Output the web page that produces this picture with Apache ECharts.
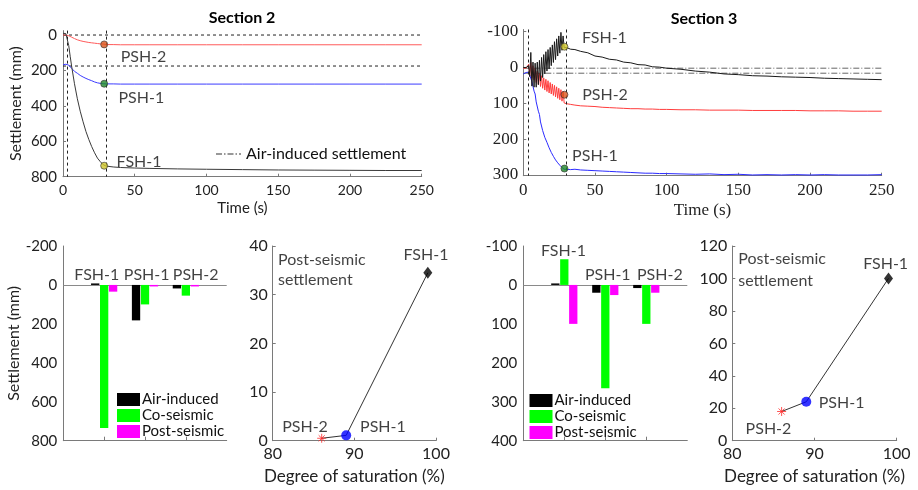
<!DOCTYPE html>
<html><head><meta charset="utf-8">
<script src="https://cdn.jsdelivr.net/npm/echarts@6/dist/echarts.min.js"></script>
<style>html,body{margin:0;padding:0;background:#fff}#c{width:918px;height:490px}</style>
</head><body><div id="c"></div>
<script>
// ---------------- DATA ----------------
// Section 2 time histories
const timeS2 = [0,1,2,3,4,5,6,8,10,12,14,16,18,20,22,24,26,28,29,30,35,40,50,60,80,100,125,150,175,200,225,250];
const fsh1S2 = [-10,-12,-8,0,60,120,175,275,360,430,490,545,590,630,665,695,715,732,738,740,745,748,751,753,756,758,760,762,763,764,765,765];
const psh1S2 = [168,168,165,160,170,180,188,205,216,228,237,245,252,258,265,270,273,275,275,276,276,277,277,277,277,277,277,277,277,277,277,277];
const psh2S2 = [0,0,0,1,4,8,12,20,27,32,36,39,42,44,46,48,50,51,53,54,54,55,55,55,55,55,55,55,55,55,55,55];
const airLevelsS2 = [0, 175];
const markerTimeS2 = 28.7;
const markerValsS2 = [738, 275, 53];   // FSH-1, PSH-1, PSH-2

// Section 3 time histories
const timeS3 = [0,1,2,3,
  3.75,4.5,5.25,6,6.75,7.5,8.25,9,9.75,10.5,11.25,12,12.75,13.5,14.25,15,15.75,16.5,17.25,18,18.75,19.5,20.25,21,21.75,22.5,23.25,24,24.75,25.5,26.25,27,27.75,28.5,
  29.25,30,33,36,40,45,50,55,60,65,70,75,80,85,90,95,100,110,120,130,140,150,160,170,180,190,200,210,220,230,240,250];
const fsh1S3 = [0,0,0,2,
  -5,25,-42,52,-15,55,-12,55,-15,48,-20,38,-28,28,-36,18,-44,10,-50,4,-56,-5,-63,-14,-72,-22,-80,-32,-88,-40,-98,-48,-88,-55,
  -57,-56,-51,-50,-45,-41,-32,-29,-23,-21,-15,-13,-8,-7,-2,-1,2,5,10,13,18,20,23,24,26,27,28,30,31,32,33,34];
const psh2S3 = [2,2,2,3,
  -9,25,-14,30,-5,35,2,42,10,47,16,53,23,58,29,63,33,67,37,71,42,74,46,78,50,82,54,86,58,90,62,94,66,99,
  100,101,103,105,107,108,109,111,112,113,114,115,115,116,116,117,117,118,118,119,119,119,120,120,120,120,121,121,121,122,122,122];
const psh1S3 = [18,17,14,12,
  13,22,24,39,44,66,74,96,101,122,131,152,156,176,178,195,195,209,209,224,223,237,235,248,245,258,254,266,262,273,268,279,274,284,
  283,284,285,284,286,287,288,289,290,291,292,293,294,295,295,296,296,297,298,297,299,298,300,299,300,299,300,299,300,300,300,299];
const airLevelsS3 = [2, 16];
const markerTimeS3 = 28.7;
const markerValsS3 = [-58, 282, 76];   // FSH-1, PSH-1, PSH-2
const phaseTimes = [3.2, 29.8];
const timeRange = [0, 250];

// Bar charts (settlement, mm; positive = downward)
const barCategories = ['FSH-1', 'PSH-1', 'PSH-2'];
const barPositions = [1, 2, 3];
const airS2  = [0, 182, 18];
const coS2   = [735, 100, 55];
const postS2 = [34.5, 1.1, 0.5];
const airS3  = [0, 20, 8];
const coS3   = [-66, 265, 100];
const postS3 = [100, 26, 20];

// Post-seismic settlement vs degree of saturation (order: PSH-2, PSH-1, FSH-1)
const satNames = ['PSH-2', 'PSH-1', 'FSH-1'];
const saturation = [86, 89, 99];
const postSatS2 = [0.5, 1.1, 34.5];
const postSatS3 = [18, 24, 100];

// ---------------- CHART ----------------
const SANS = 'Lato, "Liberation Sans", sans-serif';
const SERIF = '"Liberation Serif", "Times New Roman", serif';
const AX = '#7a7a7a', TXT = '#222';
const pts = (xs, ys) => xs.map((x, i) => [x, ys[i]]);

const chart = echarts.init(document.getElementById('c'));

const grids = [
  {left: 63,    top: 30.6, width: 358.7, height: 146.1},
  {left: 523.3, top: 29.5, width: 358.4, height: 146.2},
  {left: 63.3,  top: 246,  width: 163.4, height: 194.7},
  {left: 272.7, top: 246,  width: 163.3, height: 194.7},
  {left: 523.3, top: 246,  width: 164,   height: 194.7},
  {left: 732.3, top: 246,  width: 164.4, height: 194.7}
];

function axLine() { return {show: true, onZero: false, lineStyle: {color: AX, width: 1}}; }

const xAxes = [
  {gridIndex: 0, type: 'value', min: 0, max: 250, interval: 50, axisLine: axLine(),
   axisTick: {inside: true, length: 3, lineStyle: {color: AX}}, splitLine: {show: false},
   axisLabel: {fontFamily: SANS, fontSize: 14, color: TXT, margin: 7},
   name: 'Time (s)', nameLocation: 'middle', nameGap: 24, nameTextStyle: {fontFamily: SANS, fontSize: 15, color: TXT}},
  {gridIndex: 1, type: 'value', min: 0, max: 250, interval: 50, axisLine: axLine(),
   axisTick: {inside: true, length: 3, lineStyle: {color: AX}}, splitLine: {show: false},
   axisLabel: {fontFamily: SERIF, fontSize: 17, color: TXT, margin: 6},
   name: 'Time (s)', nameLocation: 'middle', nameGap: 26, nameTextStyle: {fontFamily: SERIF, fontSize: 17, color: TXT}},
  {gridIndex: 2, type: 'value', min: 0, max: 4, axisLine: axLine(),
   axisTick: {inside: true, length: 4, customValues: barPositions, lineStyle: {color: AX}},
   axisLabel: {show: false}, splitLine: {show: false}},
  {gridIndex: 3, type: 'value', min: 80, max: 100, interval: 10, axisLine: axLine(),
   axisTick: {inside: true, length: 3, lineStyle: {color: AX}}, splitLine: {show: false},
   axisLabel: {fontFamily: SANS, fontSize: 16, color: TXT, margin: 5},
   name: 'Degree of saturation (%)', nameLocation: 'middle', nameGap: 27, nameTextStyle: {fontFamily: SANS, fontSize: 17, color: TXT}},
  {gridIndex: 4, type: 'value', min: 0, max: 4, axisLine: axLine(),
   axisTick: {inside: true, length: 4, customValues: barPositions, lineStyle: {color: AX}},
   axisLabel: {show: false}, splitLine: {show: false}},
  {gridIndex: 5, type: 'value', min: 80, max: 100, interval: 10, axisLine: axLine(),
   axisTick: {inside: true, length: 3, lineStyle: {color: AX}}, splitLine: {show: false},
   axisLabel: {fontFamily: SANS, fontSize: 16, color: TXT, margin: 5},
   name: 'Degree of saturation (%)', nameLocation: 'middle', nameGap: 27, nameTextStyle: {fontFamily: SANS, fontSize: 17, color: TXT}}
];

const yAxes = [
  {gridIndex: 0, type: 'value', inverse: true, min: -25, max: 800, axisLine: axLine(),
   axisTick: {inside: true, length: 3, customValues: [0,200,400,600,800], lineStyle: {color: AX}},
   axisLabel: {customValues: [0,200,400,600,800], fontFamily: SANS, fontSize: 15, color: TXT, margin: 6},
   splitLine: {show: false},
   name: 'Settlement (mm)', nameLocation: 'middle', nameGap: 39, nameTextStyle: {fontFamily: SANS, fontSize: 16, color: TXT}},
  {gridIndex: 1, type: 'value', inverse: true, min: -106, max: 302, axisLine: axLine(),
   axisTick: {inside: true, length: 3, customValues: [-100,0,100,200,300], lineStyle: {color: AX}},
   axisLabel: {customValues: [-100,0,100,200,300], fontFamily: SERIF, fontSize: 17, color: TXT, margin: 5},
   splitLine: {show: false}},
  {gridIndex: 2, type: 'value', inverse: true, min: -200, max: 800, interval: 200, axisLine: axLine(),
   axisTick: {show: false}, splitLine: {show: false},
   axisLabel: {fontFamily: SANS, fontSize: 15, color: TXT, margin: 6},
   name: 'Settlement (mm)', nameLocation: 'middle', nameGap: 40, nameTextStyle: {fontFamily: SANS, fontSize: 16, color: TXT}},
  {gridIndex: 3, type: 'value', min: 0, max: 40, interval: 10, axisLine: axLine(),
   axisTick: {inside: true, length: 3, lineStyle: {color: AX}}, splitLine: {show: false},
   axisLabel: {fontFamily: SANS, fontSize: 16, color: TXT, margin: 5}},
  {gridIndex: 4, type: 'value', inverse: true, min: -100, max: 400, interval: 100, axisLine: axLine(),
   axisTick: {show: false}, splitLine: {show: false},
   axisLabel: {fontFamily: SANS, fontSize: 15, color: TXT, margin: 6}},
  {gridIndex: 5, type: 'value', min: 0, max: 120, interval: 20, axisLine: axLine(),
   axisTick: {inside: true, length: 3, lineStyle: {color: AX}}, splitLine: {show: false},
   axisLabel: {fontFamily: SANS, fontSize: 16, color: TXT, margin: 5}}
];

const series = [];
function line(idx, xs, ys, color, width) {
  series.push({type: 'line', xAxisIndex: idx, yAxisIndex: idx, data: pts(xs, ys), symbol: 'none',
    silent: true, lineStyle: {color: color, width: width || 1}, itemStyle: {color: color}, z: 3});
}
function airLines(idx, levels, name, color, dash) {
  levels.forEach((lvl, i) => {
    const s = {type: 'line', name: name, xAxisIndex: idx, yAxisIndex: idx,
      data: [[timeRange[0], lvl], [timeRange[1], lvl]], symbol: 'none', silent: true,
      lineStyle: {color: color, width: 1, type: dash}, itemStyle: {color: color}, z: 2};
    if (i === 0) {
      s.markLine = {silent: true, symbol: ['none', 'none'], label: {show: false},
        lineStyle: {color: '#222', width: 1, type: [3, 3]},
        data: phaseTimes.map(t => ({xAxis: t}))};
    }
    series.push(s);
  });
}
const markerColors = ['#cfc52a', '#1f8a2a', '#d9541a'];
function markers(idx, t, vals) {
  series.push({type: 'scatter', xAxisIndex: idx, yAxisIndex: idx, symbolSize: 7, silent: true, z: 5,
    data: vals.map((v, i) => ({value: [t, v], itemStyle: {color: markerColors[i], borderColor: '#333', borderWidth: 0.8}}))});
}
function annotations(idx, items, fontSize, align) {
  series.push({type: 'scatter', xAxisIndex: idx, yAxisIndex: idx, symbolSize: 0, silent: true, z: 6,
    data: items.map(a => ({name: a[0], value: [a[1], a[2]]})),
    label: {show: true, position: align === 'left' ? 'right' : 'inside', distance: 0, formatter: '{b}',
      fontFamily: SANS, fontSize: fontSize, color: '#111'}});
}

// Panel 1: Section 2
airLines(0, airLevelsS2, 'Air-induced settlement', '#222', [3, 3]);
line(0, timeS2, psh2S2, '#ff5a5a');
line(0, timeS2, psh1S2, '#3c3cff');
line(0, timeS2, fsh1S2, '#3a3a3a');
markers(0, markerTimeS2, markerValsS2);
annotations(0, [['PSH-2', 56.1, 122], ['PSH-1', 54.6, 354], ['FSH-1', 53, 715]], 16);

// Panel 2: Section 3
airLines(1, airLevelsS3, 'Air-induced S3', '#666', [6, 2, 1, 2]);
line(1, timeS3, psh2S3, '#ff3d3d');
line(1, timeS3, psh1S3, '#2b2bff');
line(1, timeS3, fsh1S3, '#1a1a1a');
markers(1, markerTimeS3, markerValsS3);
annotations(1, [['FSH-1', 56.6, -83], ['PSH-2', 57, 75], ['PSH-1', 50, 246]], 16);

// Bars
function bars(idx, air, co, post) {
  const defs = [['Air-induced', '#000000', air], ['Co-seismic', '#00ff00', co], ['Post-seismic', '#ff00ff', post]];
  defs.forEach((d, i) => {
    const s = {type: 'bar', name: d[0], xAxisIndex: idx, yAxisIndex: idx, data: pts(barPositions, d[2]),
      barWidth: 8.3, barGap: '8%', barMinHeight: 1.5, silent: true, itemStyle: {color: d[1]}};
    if (i === 0) {
      s.markLine = {silent: true, symbol: ['none', 'none'], label: {show: false}, z: 1,
        lineStyle: {color: '#8a8a8a', width: 1, type: 'solid'}, data: [{yAxis: 0}]};
    }
    series.push(s);
  });
}
bars(2, airS2, coS2, postS2);
annotations(2, [['FSH-1', 0.82, -51], ['PSH-1', 2.04, -51], ['PSH-2', 3.24, -51]], 16);
bars(4, airS3, coS3, postS3);
annotations(4, [['FSH-1', 0.98, -88], ['PSH-1', 2.06, -26], ['PSH-2', 3.33, -26]], 16);

// Scatter panels
function satPanel(idx, ys) {
  series.push({type: 'line', xAxisIndex: idx, yAxisIndex: idx, data: pts(saturation, ys), symbol: 'none',
    silent: true, lineStyle: {color: '#333', width: 1}, z: 3});
  const sym = [
    {symbol: 'path://M5,0L5,10M0,5L10,5M1.6,1.6L8.4,8.4M8.4,1.6L1.6,8.4', symbolSize: 9,
     itemStyle: {color: 'transparent', borderColor: '#ff2a2a', borderWidth: 1}},
    {symbol: 'circle', symbolSize: 10, itemStyle: {color: '#0000ff'}},
    {symbol: 'diamond', symbolSize: [9, 12], itemStyle: {color: '#000'}}
  ];
  series.push({type: 'scatter', xAxisIndex: idx, yAxisIndex: idx, silent: true, z: 4,
    data: saturation.map((x, i) => Object.assign({name: satNames[i], value: [x, ys[i]]}, sym[i]))});
}
satPanel(3, postSatS2);
annotations(3, [['Post-seismic', 80.65, 37.2], ['settlement', 80.65, 33.0]], 16, 'left');
annotations(3, [['FSH-1', 98.78, 38.1], ['PSH-2', 83.96, 2.8], ['PSH-1', 93.5, 2.8]], 16);
satPanel(5, postSatS3);
annotations(5, [['Post-seismic', 80.73, 111.8], ['settlement', 80.73, 98.6]], 16, 'left');
annotations(5, [['FSH-1', 98.66, 109.3], ['PSH-1', 93.3, 23.4], ['PSH-2', 84.4, 7.6]], 16);

const dashDotIcon = 'path://M0,0h6v1h-6zM8,0h1.5v1h-1.5zM11.5,0h6v1h-6zM19.5,0h1.5v1h-1.5zM23,0h2v1h-2z';

const option = {
  animation: false,
  backgroundColor: '#ffffff',
  title: [
    {text: 'Section 2', left: 242, top: 10, textAlign: 'center', padding: 0,
     textStyle: {fontFamily: SANS, fontSize: 16, fontWeight: 'bold', color: '#000'}},
    {text: 'Section 3', left: 704, top: 11, textAlign: 'center', padding: 0,
     textStyle: {fontFamily: SANS, fontSize: 16, fontWeight: 'bold', color: '#000'}}
  ],
  legend: [
    {data: [{name: 'Air-induced settlement', icon: dashDotIcon}], left: 216, top: 146, padding: 0,
     itemWidth: 25, itemHeight: 1.3, selectedMode: false,
     itemStyle: {color: '#333', borderWidth: 0},
     textStyle: {fontFamily: SANS, fontSize: 16, color: '#111'}},
    {data: ['Air-induced', 'Co-seismic', 'Post-seismic'], orient: 'vertical', left: 117, top: 391.5, padding: 0,
     icon: 'rect', itemWidth: 23, itemHeight: 13, itemGap: 0, selectedMode: false,
     textStyle: {fontFamily: SANS, fontSize: 15, color: '#111', lineHeight: 16, padding: [0, 0, 0, -3]}},
    {data: ['Air-induced', 'Co-seismic', 'Post-seismic'], orient: 'vertical', left: 529.5, top: 392.5, padding: 0,
     icon: 'rect', itemWidth: 23, itemHeight: 13, itemGap: 0, selectedMode: false,
     textStyle: {fontFamily: SANS, fontSize: 15, color: '#111', lineHeight: 16, padding: [0, 0, 0, -3]}}
  ],
  grid: grids,
  xAxis: xAxes,
  yAxis: yAxes,
  series: series
};
chart.setOption(option);
</script></body></html>
